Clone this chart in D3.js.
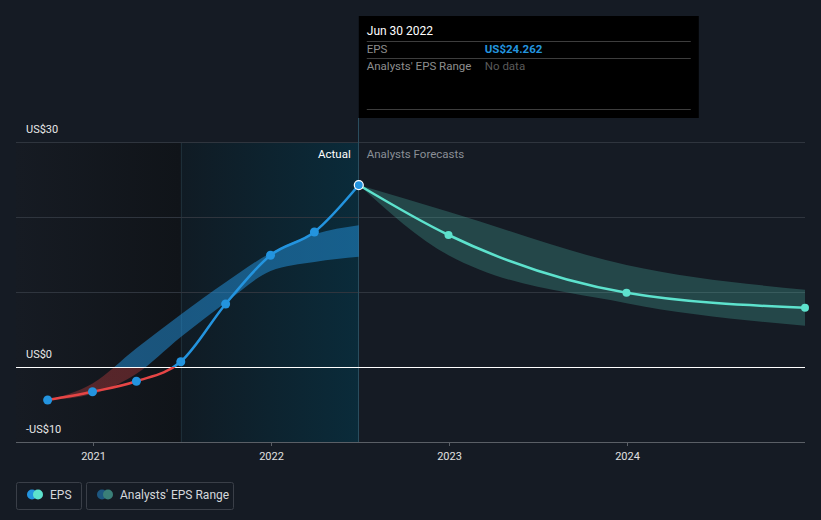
<!DOCTYPE html>
<html>
<head>
<meta charset="utf-8">
<script src="https://cdn.jsdelivr.net/npm/d3@7/dist/d3.min.js"></script>
<style>
  html, body { margin: 0; padding: 0; background: #151b24; }
  svg { display: block; font-family: Roboto, "Noto Sans", sans-serif; }
</style>
</head>
<body>
<svg id="chart" width="821" height="520"></svg>
<script>
// ---- Data ----
const pastDates = ["2020-09-30", "2020-12-31", "2021-03-31", "2021-06-30", "2021-09-30", "2021-12-31", "2022-03-31", "2022-06-30"];
const pastEPS = [-4.4, -3.3, -1.9, 0.7, 8.4, 14.9, 18.0, 24.262];
const pastRangeLow = [-4.4, -3.6, -0.9, 4.0, 8.6, 12.8, 14.0, 14.7];
const pastRangeHigh = [-4.4, -2.2, 2.5, 7.0, 11.3, 15.2, 17.7, 18.9];

const forecastDates = ["2022-06-30", "2022-12-31", "2023-12-31", "2024-12-31"];
const forecastEPS = [24.262, 17.6, 9.9, 7.9];
const forecastLow = [24.262, 14.9, 8.5, 5.5];
const forecastHigh = [24.262, 20.7, 13.6, 10.3];

const yTicks = [-10, 0, 30];
const yTickLabels = ["-US$10", "US$0", "US$30"];
const xTickYears = [2021, 2022, 2023, 2024];

// ---- Setup ----
const svg = d3.select("#chart");
const W = 821, H = 520;
const parse = d3.timeParse("%Y-%m-%d");

const x = d3.scaleTime()
  .domain([new Date(2021, 0, 1), new Date(2024, 0, 1)])
  .range([93, 627]);
const y = d3.scaleLinear().domain([-10, 30]).range([442, 142]);
const crisp = v => Math.round(v) + 0.5;

const left = 16, right = 805;
const actualDate = parse("2022-06-30");
const xActual = x(actualDate);
const xMid = x(parse("2021-06-30"));

const defs = svg.append("defs");

// background
svg.append("rect").attr("width", W).attr("height", H).attr("fill", "#151b24");

// darker past region
const gDark = defs.append("linearGradient").attr("id", "gDark").attr("x1", 0).attr("x2", 1);
gDark.append("stop").attr("offset", 0).attr("stop-color", "#161b23");
gDark.append("stop").attr("offset", 1).attr("stop-color", "#101419");
svg.append("rect").attr("x", left).attr("y", 142).attr("width", xMid - left).attr("height", 300).attr("fill", "url(#gDark)");

// teal actual region
const gTeal = defs.append("linearGradient").attr("id", "gTeal").attr("x1", 0).attr("x2", 1);
gTeal.append("stop").attr("offset", 0).attr("stop-color", "#101b24");
gTeal.append("stop").attr("offset", 1).attr("stop-color", "#0a2b3a");
svg.append("rect").attr("x", xMid).attr("y", 142).attr("width", xActual - xMid).attr("height", 300).attr("fill", "url(#gTeal)");
svg.append("line").attr("x1", crisp(xMid)).attr("x2", crisp(xMid)).attr("y1", 142).attr("y2", 442)
  .attr("stroke", "#1d2e38").attr("stroke-width", 1);

// grid lines
[30, 20, 10].forEach(v => {
  svg.append("line").attr("x1", left).attr("x2", right).attr("y1", crisp(y(v))).attr("y2", crisp(y(v)))
    .attr("stroke", "#2f353e").attr("stroke-width", 1);
});

// y labels
yTicks.forEach((v, i) => {
  svg.append("text").attr("x", 26).attr("y", y(v) - 9)
    .attr("fill", "#e8e8e8").attr("font-size", 11).text(yTickLabels[i]);
});

// vertical line at actual
svg.append("line").attr("x1", crisp(xActual) - 1).attr("x2", crisp(xActual) - 1).attr("y1", 118).attr("y2", 442)
  .attr("stroke", "#2a4d5e").attr("stroke-width", 1);

// gradients for sign colouring
const gLine = defs.append("linearGradient").attr("id", "gLine")
  .attr("gradientUnits", "userSpaceOnUse").attr("x1", 0).attr("x2", 0).attr("y1", y(30)).attr("y2", y(-10));
const zOff = (y(0) - y(30)) / (y(-10) - y(30));
gLine.append("stop").attr("offset", zOff).attr("stop-color", "#2394df");
gLine.append("stop").attr("offset", zOff).attr("stop-color", "#e64545");

const gBand = defs.append("linearGradient").attr("id", "gBand")
  .attr("gradientUnits", "userSpaceOnUse").attr("x1", 0).attr("x2", 0).attr("y1", y(30)).attr("y2", y(-10));
gBand.append("stop").attr("offset", zOff).attr("stop-color", "#2394df").attr("stop-opacity", 0.5);
gBand.append("stop").attr("offset", zOff).attr("stop-color", "#e64545").attr("stop-opacity", 0.32);

// past band
const pastBand = pastDates.map((d, i) => ({ d: parse(d), lo: pastRangeLow[i], hi: pastRangeHigh[i] }));
svg.append("path").datum(pastBand)
  .attr("d", d3.area().curve(d3.curveMonotoneX).x(p => x(p.d)).y0(p => y(p.lo)).y1(p => y(p.hi)))
  .attr("fill", "url(#gBand)");

// forecast band
const fBand = forecastDates.map((d, i) => ({ d: parse(d), lo: forecastLow[i], hi: forecastHigh[i] }));
svg.append("path").datum(fBand)
  .attr("d", d3.area().curve(d3.curveMonotoneX).x(p => x(p.d)).y0(p => y(p.lo)).y1(p => y(p.hi)))
  .attr("fill", "#5de2cd").attr("fill-opacity", 0.22);

// zero line
svg.append("line").attr("x1", left).attr("x2", right).attr("y1", crisp(y(0))).attr("y2", crisp(y(0)))
  .attr("stroke", "#ffffff").attr("stroke-width", 1);

// bottom axis
const xAxis = d3.axisBottom(x)
  .tickValues(xTickYears.map(yr => new Date(yr, 0, 1)))
  .tickFormat(d3.timeFormat("%Y"))
  .tickSize(4).tickPadding(6);
const ax = svg.append("g").attr("transform", `translate(0,${y(-10)})`).call(xAxis);
ax.select(".domain").remove();
ax.selectAll(".tick line").attr("stroke", "#5a5f66");
ax.selectAll(".tick text").attr("fill", "#e0e0e0").attr("font-size", 11).attr("font-family", "Roboto, sans-serif");
svg.append("line").attr("x1", left).attr("x2", right).attr("y1", crisp(y(-10))).attr("y2", crisp(y(-10)))
  .attr("stroke", "#5a5f66").attr("stroke-width", 1);

// past line
const past = pastDates.map((d, i) => ({ d: parse(d), v: pastEPS[i] }));
svg.append("path").datum(past)
  .attr("d", d3.line().curve(d3.curveMonotoneX).x(p => x(p.d)).y(p => y(p.v)))
  .attr("fill", "none").attr("stroke", "url(#gLine)").attr("stroke-width", 2.5);

// forecast line
const fc = forecastDates.map((d, i) => ({ d: parse(d), v: forecastEPS[i] }));
svg.append("path").datum(fc)
  .attr("d", d3.line().curve(d3.curveMonotoneX).x(p => x(p.d)).y(p => y(p.v)))
  .attr("fill", "none").attr("stroke", "#5de2cd").attr("stroke-width", 2.5);

// points
svg.selectAll(".fpt").data(fc.slice(1)).enter().append("circle")
  .attr("cx", p => x(p.d)).attr("cy", p => y(p.v)).attr("r", 4).attr("fill", "#5de2cd");
svg.selectAll(".ppt").data(past.slice(0, -1)).enter().append("circle")
  .attr("cx", p => x(p.d)).attr("cy", p => y(p.v)).attr("r", 4.5).attr("fill", "#2394df");
const last = past[past.length - 1];
svg.append("circle").attr("cx", x(last.d)).attr("cy", y(last.v)).attr("r", 4.5)
  .attr("fill", "#2394df").attr("stroke", "#ffffff").attr("stroke-width", 1.2);

// Actual / Forecast labels
svg.append("text").attr("x", xActual - 8).attr("y", 158).attr("text-anchor", "end")
  .attr("fill", "#ffffff").attr("font-size", 11.5).text("Actual");
svg.append("text").attr("x", xActual + 8).attr("y", 158)
  .attr("fill", "#8a8f96").attr("font-size", 11.5).text("Analysts Forecasts");

// tooltip
const tt = svg.append("g");
tt.append("rect").attr("x", xActual).attr("y", 16).attr("width", 340).attr("height", 102).attr("fill", "#000000");
tt.append("text").attr("x", xActual + 8).attr("y", 35).attr("fill", "#ffffff").attr("font-size", 12).text("Jun 30 2022");
[41, 58, 109].forEach(yy => {
  tt.append("line").attr("x1", xActual + 8).attr("x2", xActual + 332).attr("y1", yy + 0.5).attr("y2", yy + 0.5)
    .attr("stroke", "#3d3d3d").attr("stroke-width", 1);
});
tt.append("text").attr("x", xActual + 8).attr("y", 53).attr("fill", "#8e8e8e").attr("font-size", 11.5).text("EPS");
tt.append("text").attr("x", xActual + 126).attr("y", 53).attr("fill", "#2394df").attr("font-size", 11.5)
  .attr("font-weight", "bold").text("US$" + d3.format(".3f")(pastEPS[pastEPS.length - 1]));
tt.append("text").attr("x", xActual + 8).attr("y", 70).attr("fill", "#8e8e8e").attr("font-size", 11.5).text("Analysts' EPS Range");
tt.append("text").attr("x", xActual + 126).attr("y", 70).attr("fill", "#5a5a5a").attr("font-size", 11.5).text("No data");

// legend
const lg = svg.append("g");
lg.append("rect").attr("x", 16.5).attr("y", 482.5).attr("width", 65).attr("height", 27).attr("rx", 2)
  .attr("fill", "none").attr("stroke", "#3a3f48");
lg.append("circle").attr("cx", 32).attr("cy", 494.5).attr("r", 5).attr("fill", "#2394df");
lg.append("circle").attr("cx", 38).attr("cy", 494.5).attr("r", 5).attr("fill", "#5de2cd");
lg.append("text").attr("x", 50).attr("y", 499).attr("fill", "#d5d8dc").attr("font-size", 12).text("EPS");

lg.append("rect").attr("x", 86.5).attr("y", 482.5).attr("width", 147).attr("height", 27).attr("rx", 2)
  .attr("fill", "none").attr("stroke", "#3a3f48");
lg.append("circle").attr("cx", 102).attr("cy", 494.5).attr("r", 5).attr("fill", "#1d5780");
lg.append("circle").attr("cx", 108).attr("cy", 494.5).attr("r", 5).attr("fill", "#3a7f78");
lg.append("text").attr("x", 120).attr("y", 499).attr("fill", "#d5d8dc").attr("font-size", 12).text("Analysts' EPS Range");
</script>
</body>
</html>
